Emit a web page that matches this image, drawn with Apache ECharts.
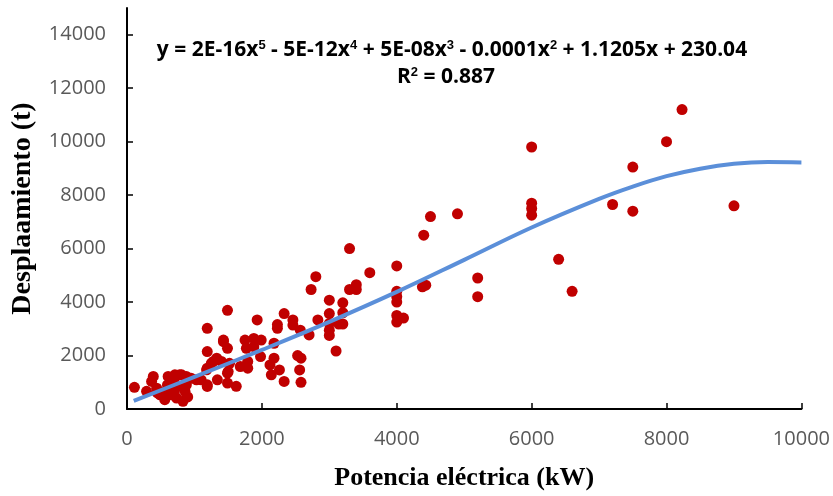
<!DOCTYPE html>
<html><head><meta charset="utf-8">
<script src="https://cdn.jsdelivr.net/npm/echarts@6/dist/echarts.min.js"></script>
<style>html,body{margin:0;padding:0;background:#fff}#c{width:833px;height:496px}</style>
</head><body><div id="c"></div>
<script>
// Potencia eléctrica (kW)
const potencia = [110,290,365,390,440,490,560,520,610,640,660,700,710,735,760,780,810,830,860,880,880,900,600,450,700,950,1030,1100,1190,1190,1180,1190,1190,1190,1250,1280,1330,1340,1400,1430,1430,1490,1490,1490,1490,1500,1520,1620,1680,1750,1770,1790,1790,1880,1880,1930,1980,1990,2120,2140,2180,2180,2230,2230,2260,2330,2330,2460,2460,2530,2560,2570,2580,2580,2700,2730,2800,2830,3000,3000,3000,3000,3000,3100,3140,3200,3200,3200,3300,3300,3400,3400,3600,4000,4000,4000,4000,4000,4000,4100,4380,4430,4400,4500,4900,5200,5200,6000,6000,6000,6000,6400,6600,7200,7500,7500,8000,8230,9000];
// Desplazamiento (t)
const desplazamiento = [810,660,1030,1220,780,530,350,620,1220,780,530,620,1280,410,850,1280,1280,290,660,905,1220,450,900,600,1000,1150,1090,1090,845,905,1464,1526,2150,3020,1710,1780,1900,1090,1780,2520,2580,970,1340,2270,3690,1400,1710,850,1590,2580,2270,1526,1780,2330,2640,3330,1960,2580,1650,1280,1900,2460,3016,3160,1460,1030,3570,3140,3330,2000,1460,2950,1000,1900,2770,4470,4950,3330,2750,2950,3200,3570,4070,2170,3180,3180,3600,3970,4470,6000,4470,4650,5100,3250,3500,4000,4200,4400,5350,3400,4570,4630,6500,7200,7300,4200,4900,7250,7500,7700,9800,5600,4400,7650,7400,9050,10000,11200,7600];
// Trendline
const trendX = [100,1000,2000,3000,4000,5000,6000,7000,7500,8000,8500,9000,9500,10000];
const trendY = [300,1200,2210,3260,4380,5580,6790,7860,8320,8710,8990,9170,9235,9225];
const xTicks = [0,2000,4000,6000,8000,10000];
const yTicks = [0,2000,4000,6000,8000,10000,12000,14000];

const equation = 'y = 2E-16x{s|5} - 5E-12x{s|4} + 5E-08x{s|3} - 0.0001x{s|2} + 1.1205x + 230.04';
const r2 = 'R{s|2} = 0.887';

const chart = echarts.init(document.getElementById('c'));
const labelFont = {color:'#595959', fontSize:20, fontFamily:'"Open Sans", sans-serif', formatter:v=>String(v)};
const eqRich = {s:{fontSize:13, fontWeight:'bold', verticalAlign:'top', padding:[0,0,9,0], fontFamily:'"Liberation Sans Narrow", sans-serif'}};
chart.setOption({
  animation:false,
  grid:{left:127, right:30, top:8, bottom:85, containLabel:false},
  xAxis:{type:'value', min:0, max:10000, interval:2000,
    splitLine:{show:false},
    axisLine:{onZero:false, lineStyle:{color:'#000', width:2}},
    axisTick:{inside:true, length:6, lineStyle:{color:'#000', width:1.5}, customValues:xTicks},
    axisLabel:Object.assign({margin:20, customValues:xTicks}, labelFont),
    name:'Potencia eléctrica (kW)', nameLocation:'middle', nameGap:56,
    nameTextStyle:{fontFamily:'"Liberation Serif", serif', fontWeight:'bold', fontSize:26, color:'#000'}
  },
  yAxis:{type:'value', min:0, max:15000, interval:2000,
    splitLine:{show:false},
    axisLine:{show:true, onZero:false, lineStyle:{color:'#000', width:2}},
    axisTick:{show:true, inside:true, length:6, lineStyle:{color:'#000', width:1.5}, customValues:yTicks},
    axisLabel:Object.assign({margin:21, customValues:yTicks}, labelFont),
    name:'Desplaamiento (t)', nameLocation:'middle', nameGap:90,
    nameTextStyle:{fontFamily:'"Liberation Serif", serif', fontWeight:'bold', fontSize:28, color:'#000'}
  },
  series:[
    {type:'scatter', data:potencia.map((x,i)=>[x, desplazamiento[i]]), symbolSize:11,
      itemStyle:{color:'#C00000', opacity:1}, z:2},
    {type:'line', data:trendX.map((x,i)=>[x, trendY[i]]), smooth:0.4, showSymbol:false,
      lineStyle:{color:'#5B8FD9', width:4}, z:3}
  ],
  graphic:[
    {type:'text', x:452, y:50, style:{text:equation, fill:'#000', align:'center', verticalAlign:'middle',
      font:'bold 21px "Liberation Sans Narrow", "Open Sans", sans-serif', rich:eqRich}},
    {type:'text', x:446, y:77, style:{text:r2, fill:'#000', align:'center', verticalAlign:'middle',
      font:'bold 21px "Liberation Sans Narrow", "Open Sans", sans-serif', rich:eqRich}}
  ]
});
</script></body></html>
